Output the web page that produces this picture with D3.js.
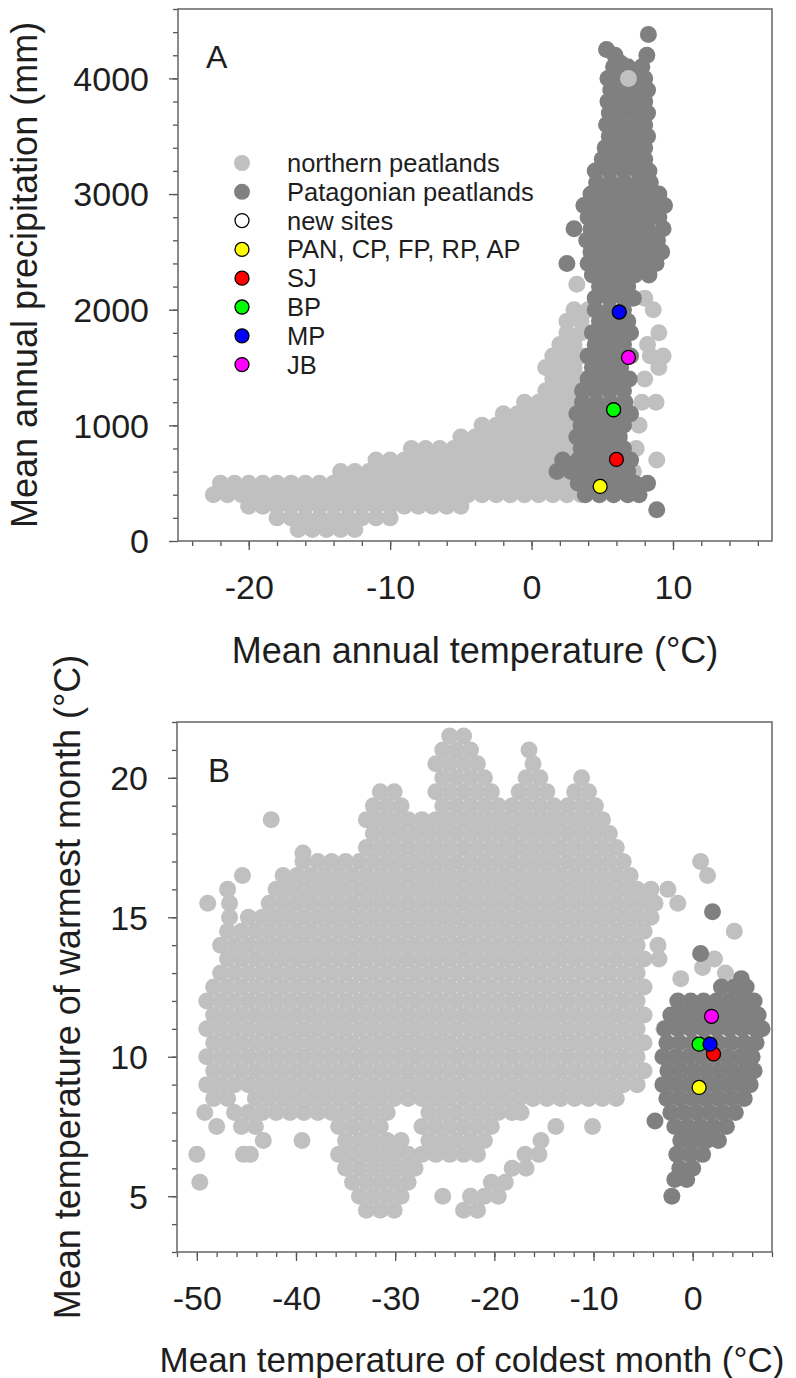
<!DOCTYPE html>
<html>
<head>
<meta charset="UTF-8">
<script src="https://d3js.org/d3.v7.min.js"></script>
<style>
  body { margin: 0; background: #fff; }
  text { font-family: "Liberation Sans", Arial, sans-serif; fill: #1e1e1e; }
</style>
</head>
<body>
<svg id="chart" width="796" height="1378"></svg>
<script>
// ---- data ----
// panel A: mean annual temperature (C) vs mean annual precipitation (mm), rows of [y, [x...]]
const northA = [
  [100, [-16.5,-15.5,-14.5,-13.5,-12.5]],
  [200, [-18,-17,-16,-15,-14,-13,-12,-11,-10]],
  [300, [-20,-19,-18,-17,-16,-15,-14,-13,-12,-11,-10,-9,-8,-7,-6,-5]],
  [400, [-22.5,-21.5,-20.5,-19.5,-18.5,-17.5,-16.5,-15.5,-14.5,-13.5,-12.5,-11.5,-10.5,-9.5,-8.5,-7.5,-6.5,-5.5,-4.5,-3.5,-2.5,-1.5,-0.5,0.5,1.5,2.5,3.5]],
  [500, [-22,-21,-20,-19,-18,-17,-16,-15,-14,-13,-12,-11,-10,-9,-8,-7,-6,-5,-4,-3,-2,-1,0,1,2,3,4,5,6]],
  [600, [-13.5,-12.5,-11.5,-10.5,-9.5,-8.5,-7.5,-6.5,-5.5,-4.5,-3.5,-2.5,-1.5,-0.5,0.5,1.5,2.5,3.5,7.2]],
  [700, [-11,-10,-9,-8,-7,-6,-5,-4,-3,-2,-1,0,1,2,3,8.85]],
  [800, [-8.5,-7.5,-6.5,-5.5,-4.5,-3.5,-2.5,-1.5,-0.5,0.5,1.5,2.5,3.5,7.4]],
  [900, [-5,-4,-3,-2,-1,0,1,2,3]],
  [1000, [-3.5,-2.5,-1.5,-0.5,0.5,1.5,2.5,3.5,7.6]],
  [1100, [-2,-1,0,1,2,3]],
  [1200, [-0.5,0.5,1.5,2.5,3.5,7.8,8.8]],
  [1300, [1,2,3]],
  [1400, [1.5,2.5,3.5,8]],
  [1500, [1,2,3,9]],
  [1600, [1.5,2.5,3.5,8.4,9.3]],
  [1700, [2,3,8.2]],
  [1800, [2.5,3.5,9]],
  [1900, [2.5,3.5]],
  [2000, [3,4,8.6]],
  [2100, [8]],
  [2220, [3.2]]
];
const northATop = [[6.85, 4000]];
const patagA = [
  [270, [8.85]],
  [400, [3.8,4.8,5.8,6.8,7.6]],
  [500, [3.3,4.3,5.3,6.3,7.3,8.2]],
  [600, [1.8,2.8,3.8,4.8,5.8,6.8]],
  [700, [2.2,3.3,4.3,5.3,6.3,7.0]],
  [800, [3.5,4.5,5.5,6.5]],
  [900, [3.2,4.2,5.2,6.2]],
  [1000, [3.5,4.5,5.5,6.5]],
  [1100, [3.2,4.2,5.2,6.2,7.0]],
  [1200, [3.6,4.6,5.6,6.6]],
  [1300, [3.6,4.5,5.5,6.5]],
  [1400, [4.0,5.0,6.0,6.9]],
  [1500, [4.3,5.3,6.3]],
  [1600, [4.0,5.0,6.0,7.0]],
  [1700, [4.5,5.5,6.5]],
  [1800, [4.3,5.3,6.3,7.0]],
  [1900, [4.8,5.8,6.8]],
  [2000, [4.5,5.5,6.5]],
  [2100, [4.5,5.5,6.5,7.2]],
  [2200, [4.8,5.8,6.8]],
  [2300, [4.3,5.3,6.3,7.3,8.3]],
  [2400, [2.5,4.0,5.0,6.0,7.0,8.0,8.8]],
  [2500, [4.2,5.2,6.2,7.2,8.2,9.2]],
  [2600, [3.9,4.9,5.9,6.9,7.9,8.9]],
  [2700, [3.0,4.2,5.2,6.2,7.2,8.2,9.3]],
  [2800, [4.0,5.0,6.0,7.0,8.0,9.0]],
  [2900, [3.7,4.5,5.5,6.5,7.5,8.5,9.4]],
  [3000, [4.2,5.2,6.2,7.2,8.2,9.0]],
  [3100, [4.6,5.6,6.6,7.6,8.4]],
  [3200, [4.5,5.5,6.5,7.5,8.3]],
  [3300, [5.0,6.0,7.0,8.0]],
  [3400, [5.2,6.2,7.2,8.0]],
  [3500, [5.5,6.5,7.5,8.2]],
  [3600, [5.3,6.3,7.3,8.0]],
  [3700, [5.5,6.5,7.5,8.2]],
  [3800, [5.4,6.3,7.2,8.0]],
  [3900, [5.6,6.5,7.4,8.2]],
  [4000, [5.4,6.3,7.2,8.0]],
  [4100, [5.8,6.8,7.8]],
  [4130, [6.3]],
  [4200, [5.9,8.15]],
  [4250, [5.3]],
  [4380, [8.26]]
];

// panel B: mean temperature of coldest month (C) vs warmest month (C), rows of [y, [x...]]
const northB = [
  [4.5, [-32.9,-31.5,-30.1,-23.1,-21.7]],
  [5.0, [-33.6,-32.2,-30.8,-29.4,-25.2,-22.4,-21,-19.6]],
  [5.5, [-49.7,-34.3,-32.9,-31.5,-30.1,-28.7,-20.3,-18.9]],
  [6.0, [-35,-33.6,-32.2,-30.8,-29.4,-28,-18.2,-16.8]],
  [6.5, [-50,-45.3,-44.6,-35.7,-34.3,-32.9,-31.5,-30.1,-28.7,-27.3,-25.9,-24.5,-23.1,-21.7,-16.9,-15.5]],
  [7.0, [-43.3,-39.4,-35,-33.6,-32.2,-30.8,-29.4,-26.6,-25.2,-23.8,-22.4,-21,-15.3]],
  [7.5, [-48,-45.5,-44.1,-35.7,-34.3,-32.9,-31.5,-27.3,-25.9,-24.5,-23.1,-21.7,-20.3,-13.8,-10.1]],
  [8.0, [-49.2,-46.2,-44.8,-43.4,-42,-40.6,-39.2,-37.8,-36.4,-35,-33.6,-32.2,-30.8,-26.6,-25.2,-23.8,-22.4,-21,-19.6,-18.2,-17.3]],
  [8.5, [-48.3,-46.9,-44.1,-42.7,-41.3,-39.9,-38.5,-37.1,-35.7,-34.3,-32.9,-31.5,-30.1,-28.7,-27.3,-25.9,-24.5,-23.1,-21.7,-20.3,-18.9,-17.5,-16.1,-14.7,-13.3,-11.9,-10.5,-9.1,-7.7]],
  [9.0, [-49,-47.6,-46.2,-44.8,-43.4,-42,-40.6,-39.2,-37.8,-36.4,-35,-33.6,-32.2,-30.8,-29.4,-28,-26.6,-25.2,-23.8,-22.4,-21,-19.6,-18.2,-16.8,-15.4,-14,-12.6,-11.2,-9.8,-8.4,-7,-5.6]],
  [9.5, [-48.3,-46.9,-45.5,-44.1,-42.7,-41.3,-39.9,-38.5,-37.1,-35.7,-34.3,-32.9,-31.5,-30.1,-28.7,-27.3,-25.9,-24.5,-23.1,-21.7,-20.3,-18.9,-17.5,-16.1,-14.7,-13.3,-11.9,-10.5,-9.1,-7.7,-6.3,-4.9]],
  [10.0, [-49,-47.6,-46.2,-44.8,-43.4,-42,-40.6,-39.2,-37.8,-36.4,-35,-33.6,-32.2,-30.8,-29.4,-28,-26.6,-25.2,-23.8,-22.4,-21,-19.6,-18.2,-16.8,-15.4,-14,-12.6,-11.2,-9.8,-8.4,-7,-5.6]],
  [10.5, [-48.3,-46.9,-45.5,-44.1,-42.7,-41.3,-39.9,-38.5,-37.1,-35.7,-34.3,-32.9,-31.5,-30.1,-28.7,-27.3,-25.9,-24.5,-23.1,-21.7,-20.3,-18.9,-17.5,-16.1,-14.7,-13.3,-11.9,-10.5,-9.1,-7.7,-6.3,-4.9]],
  [11.0, [-49,-47.6,-46.2,-44.8,-43.4,-42,-40.6,-39.2,-37.8,-36.4,-35,-33.6,-32.2,-30.8,-29.4,-28,-26.6,-25.2,-23.8,-22.4,-21,-19.6,-18.2,-16.8,-15.4,-14,-12.6,-11.2,-9.8,-8.4,-7,-5.6,-2.9]],
  [11.5, [-48.3,-46.9,-45.5,-44.1,-42.7,-41.3,-39.9,-38.5,-37.1,-35.7,-34.3,-32.9,-31.5,-30.1,-28.7,-27.3,-25.9,-24.5,-23.1,-21.7,-20.3,-18.9,-17.5,-16.1,-14.7,-13.3,-11.9,-10.5,-9.1,-7.7,-6.3,-4.9]],
  [12.0, [-49,-47.6,-46.2,-44.8,-43.4,-42,-40.6,-39.2,-37.8,-36.4,-35,-33.6,-32.2,-30.8,-29.4,-28,-26.6,-25.2,-23.8,-22.4,-21,-19.6,-18.2,-16.8,-15.4,-14,-12.6,-11.2,-9.8,-8.4,-7,-5.6]],
  [12.5, [-48.3,-46.9,-45.5,-44.1,-42.7,-41.3,-39.9,-38.5,-37.1,-35.7,-34.3,-32.9,-31.5,-30.1,-28.7,-27.3,-25.9,-24.5,-23.1,-21.7,-20.3,-18.9,-17.5,-16.1,-14.7,-13.3,-11.9,-10.5,-9.1,-7.7,-6.3,-4.9]],
  [13.0, [-47.6,-46.2,-44.8,-43.4,-42,-40.6,-39.2,-37.8,-36.4,-35,-33.6,-32.2,-30.8,-29.4,-28,-26.6,-25.2,-23.8,-22.4,-21,-19.6,-18.2,-16.8,-15.4,-14,-12.6,-11.2,-9.8,-8.4,-7,-5.6]],
  [13.5, [-46.9,-45.5,-44.1,-42.7,-41.3,-39.9,-38.5,-37.1,-35.7,-34.3,-32.9,-31.5,-30.1,-28.7,-27.3,-25.9,-24.5,-23.1,-21.7,-20.3,-18.9,-17.5,-16.1,-14.7,-13.3,-11.9,-10.5,-9.1,-7.7,-6.3,-4.9,-3.4]],
  [14.0, [-47.6,-46.2,-44.8,-43.4,-42,-40.6,-39.2,-37.8,-36.4,-35,-33.6,-32.2,-30.8,-29.4,-28,-26.6,-25.2,-23.8,-22.4,-21,-19.6,-18.2,-16.8,-15.4,-14,-12.6,-11.2,-9.8,-8.4,-7,-5.6,-3.5]],
  [14.5, [-46.9,-45.5,-44.1,-42.7,-41.3,-39.9,-38.5,-37.1,-35.7,-34.3,-32.9,-31.5,-30.1,-28.7,-27.3,-25.9,-24.5,-23.1,-21.7,-20.3,-18.9,-17.5,-16.1,-14.7,-13.3,-11.9,-10.5,-9.1,-7.7,-6.3,-4.9]],
  [15.0, [-46.7,-44.8,-43.4,-42,-40.6,-39.2,-37.8,-36.4,-35,-33.6,-32.2,-30.8,-29.4,-28,-26.6,-25.2,-23.8,-22.4,-21,-19.6,-18.2,-16.8,-15.4,-14,-12.6,-11.2,-9.8,-8.4,-7,-5.6,-4.2]],
  [15.5, [-48.9,-42.7,-41.3,-39.9,-38.5,-37.1,-35.7,-34.3,-32.9,-31.5,-30.1,-28.7,-27.3,-25.9,-24.5,-23.1,-21.7,-20.3,-18.9,-17.5,-16.1,-14.7,-13.3,-11.9,-10.5,-9.1,-7.7,-6.3,-4.9,-3.8,-1.5]],
  [16.0, [-46.9,-42,-40.6,-39.2,-37.8,-36.4,-35,-33.6,-32.2,-30.8,-29.4,-28,-26.6,-25.2,-23.8,-22.4,-21,-19.6,-18.2,-16.8,-15.4,-14,-12.6,-11.2,-9.8,-8.4,-7,-5.6,-4.2,-2.5]],
  [16.5, [-45.4,-41.3,-39.9,-38.5,-37.1,-35.7,-34.3,-32.9,-31.5,-30.1,-28.7,-27.3,-25.9,-24.5,-23.1,-21.7,-20.3,-18.9,-17.5,-16.1,-14.7,-13.3,-11.9,-10.5,-9.1,-7.7,-6.3,1.5]],
  [17.0, [-39.3,-37.8,-36.4,-35,-33.6,-32.2,-30.8,-29.4,-28,-26.6,-25.2,-23.8,-22.4,-21,-19.6,-18.2,-16.8,-15.4,-14,-12.6,-11.2,-9.8,-8.4,-7,0.8]],
  [17.5, [-32.9,-31.5,-30.1,-28.7,-27.3,-25.9,-24.5,-23.1,-21.7,-20.3,-18.9,-17.5,-16.1,-14.7,-13.3,-11.9,-10.5,-9.1,-7.7]],
  [18.0, [-32.2,-30.8,-29.4,-28,-26.6,-25.2,-23.8,-22.4,-21,-19.6,-18.2,-16.8,-15.4,-14,-12.6,-11.2,-9.8,-8.4]],
  [18.5, [-42.5,-32.9,-31.5,-30.1,-28.7,-27.3,-25.9,-24.5,-23.1,-21.7,-20.3,-18.9,-17.5,-16.1,-14.7,-13.3,-11.9,-10.5,-9.1]],
  [19.0, [-32.2,-30.8,-29.4,-25.2,-23.8,-22.4,-21,-19.6,-18.2,-16.8,-15.4,-14,-12.6,-11.2,-9.8]],
  [19.5, [-31.5,-30.1,-25.9,-24.5,-23.1,-21.7,-20.3,-17.5,-16.1,-14.7,-11.9,-10.5]],
  [20.0, [-25.2,-23.8,-22.4,-21,-16.8,-15.4,-11.2]],
  [20.5, [-25.9,-24.5,-23.1,-21.7,-16.1]],
  [21.0, [-25.2,-23.8,-22.4,-16.5]],
  [21.5, [-24.5,-23.1]]
];
const northBExtra = [[-1.2,12.8],[1.0,13.2],[2.2,13.5],[3.3,13.0],[4.2,14.5],[-39.3,17.3],[-46.7,15.5]];
const patagB = [
  [5.0, [-2.1]],
  [5.6, [-1.8,-0.6]],
  [6.0, [-1.3,0.0]],
  [6.5, [-1.6,-0.3,1.0]],
  [7.0, [-1.2,0.1,1.4,2.6]],
  [7.5, [-1.8,-0.5,0.8,2.1,3.4]],
  [7.7, [-3.8]],
  [8.0, [-2.2,-0.9,0.4,1.7,3.0,4.3]],
  [8.5, [-2.6,-1.3,0.0,1.3,2.6,3.9,5.2]],
  [9.0, [-3.0,-1.7,-0.4,0.9,2.2,3.5,4.8,5.8]],
  [9.5, [-2.5,-1.2,0.1,1.4,2.7,4.0,5.3,6.2]],
  [10.0, [-3.0,-1.7,-0.4,0.9,2.2,3.5,4.8,6.0]],
  [10.5, [-2.6,-1.3,0.0,1.3,2.6,3.9,5.2,6.4]],
  [11.0, [-2.8,-1.5,-0.2,1.1,2.4,3.7,5.0,6.3,7.0]],
  [11.5, [-2.2,-0.9,0.4,1.7,3.0,4.3,5.6,6.6]],
  [12.0, [-1.5,-0.2,1.1,2.4,3.7,5.0,6.2]],
  [12.5, [2.9,4.2,5.4]],
  [12.8, [4.9]],
  [13.7, [0.8]],
  [15.2, [2.0]]
];

// new sites (legend order)
const siteNames  = ["PAN, CP, FP, RP, AP", "SJ", "BP", "MP", "JB"];
const siteColors = ["#ffff00", "#ff0000", "#00ff00", "#0000ff", "#ff00ff"];
const siteMAT  = [4.85, 6.0, 5.8, 6.2, 6.85];
const siteMAP  = [472, 705, 1135, 1980, 1587];
const siteMTCO = [0.65, 2.1, 0.65, 1.75, 1.9];
const siteMTWA = [8.9, 10.1, 10.45, 10.45, 11.45];
const drawOrder = [0, 1, 2, 4, 3];

const legendLabels = ["northern peatlands", "Patagonian peatlands", "new sites"].concat(siteNames);
const legendFills  = ["#c0c0c0", "#808080", "#ffffff"].concat(siteColors);

// tick values
const xTicksA = [-20, -10, 0, 10];
const yTicksA = [0, 1000, 2000, 3000, 4000];
const xTicksB = [-50, -40, -30, -20, -10, 0];
const yTicksB = [5, 10, 15, 20];

const LIGHT = "#c0c0c0", DARK = "#808080", R = 8.5;
const svg = d3.select("#chart");

function flat(rows) { return rows.flatMap(([y, xs]) => xs.map(x => [x, y])); }

function frame(x, y, xMaj, xMin, yMaj, yMin) {
  const [x0, x1] = x.range(), [y0, y1] = y.range();
  const ax = svg.append("g").attr("transform", `translate(0,${y0})`);
  ax.append("g").call(d3.axisBottom(x).tickValues(xMin).tickSize(5).tickFormat(""));
  ax.append("g").call(d3.axisBottom(x).tickValues(xMaj).tickSize(9).tickFormat(d => String(d)))
    .selectAll("text").attr("y", 58).attr("dy", 0).style("font-size", "34px");
  const ay = svg.append("g").attr("transform", `translate(${x0},0)`);
  ay.append("g").call(d3.axisLeft(y).tickValues(yMin).tickSize(5).tickFormat(""));
  ay.append("g").call(d3.axisLeft(y).tickValues(yMaj).tickSize(9).tickFormat(d => String(d)))
    .selectAll("text").attr("x", -29).attr("dy", "0.35em").style("font-size", "34px");
  svg.selectAll(".domain").remove();
  svg.selectAll(".tick line").attr("stroke", "#555").attr("stroke-width", 1.3);
  svg.selectAll(".tick text").attr("fill", "#1e1e1e").attr("font-family", "Liberation Sans, Arial, sans-serif");
  svg.append("rect").attr("x", x0).attr("y", y1).attr("width", x1 - x0).attr("height", y0 - y1)
    .attr("fill", "none").attr("stroke", "#6e6e6e").attr("stroke-width", 1.6);
}

function dots(g, pts, x, y, fill) {
  g.selectAll(null).data(pts).join("circle")
    .attr("cx", d => x(d[0])).attr("cy", d => y(d[1])).attr("r", R).attr("fill", fill);
}

// ---------- panel A ----------
const xA = d3.scaleLinear().domain([-25, 17]).range([178, 772]);
const yA = d3.scaleLinear().domain([0, 4600]).range([541, 9]);
const gA = svg.append("g");
dots(gA, flat(northA), xA, yA, LIGHT);
dots(gA.append("g"), flat(patagA), xA, yA, DARK);
dots(gA.append("g"), northATop, xA, yA, LIGHT);
gA.append("g").selectAll("circle").data(drawOrder).join("circle")
  .attr("cx", i => xA(siteMAT[i])).attr("cy", i => yA(siteMAP[i])).attr("r", 7)
  .attr("fill", i => siteColors[i]).attr("stroke", "#000").attr("stroke-width", 1.3);
frame(xA, yA, xTicksA, d3.range(-24, 17, 2), yTicksA, d3.range(200, 4601, 200));

svg.append("text").attr("x", 206).attr("y", 68).style("font-size", "32px").text("A");
svg.append("text").attr("x", 475).attr("y", 663).attr("text-anchor", "middle").style("font-size", "36px")
  .text("Mean annual temperature (°C)");
svg.append("text").attr("transform", "translate(37,275) rotate(-90)").attr("text-anchor", "middle")
  .style("font-size", "36px").text("Mean annual precipitation (mm)");

// legend
const leg = svg.append("g").attr("transform", "translate(242,163)");
const li = leg.selectAll("g").data(legendLabels).join("g").attr("transform", (d, i) => `translate(0,${i * 28.8})`);
li.append("circle").attr("r", (d, i) => i < 2 ? 8 : 7).attr("fill", (d, i) => legendFills[i])
  .attr("stroke", (d, i) => i < 2 ? "none" : "#000").attr("stroke-width", 1.3);
li.append("text").attr("x", 45).attr("y", 9).style("font-size", "25.5px").text(d => d);

// ---------- panel B ----------
const xB = d3.scaleLinear().domain([-52, 8]).range([177, 772]);
const yB = d3.scaleLinear().domain([3, 22]).range([1252, 722]);
const gB = svg.append("g");
dots(gB, flat(northB).concat(northBExtra), xB, yB, LIGHT);
dots(gB.append("g"), flat(patagB), xB, yB, DARK);
gB.append("g").selectAll("circle").data(drawOrder).join("circle")
  .attr("cx", i => xB(siteMTCO[i])).attr("cy", i => yB(siteMTWA[i])).attr("r", 7)
  .attr("fill", i => siteColors[i]).attr("stroke", "#000").attr("stroke-width", 1.3);
frame(xB, yB, xTicksB, d3.range(-52, 9, 2), yTicksB, d3.range(3, 23, 1));

svg.append("text").attr("x", 208).attr("y", 782).style("font-size", "33px").text("B");
svg.append("text").attr("x", 472).attr("y", 1372).attr("text-anchor", "middle").style("font-size", "35px")
  .text("Mean temperature of coldest month (°C)");
svg.append("text").attr("transform", "translate(80,987) rotate(-90)").attr("text-anchor", "middle")
  .style("font-size", "36px").text("Mean temperature of warmest month (°C)");
</script>
</body>
</html>
